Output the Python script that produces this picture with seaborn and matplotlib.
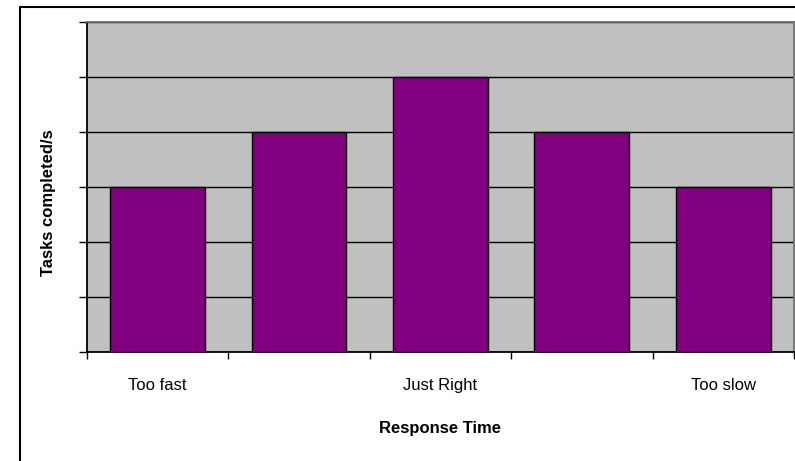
import matplotlib
matplotlib.use("Agg")
import matplotlib.pyplot as plt
from matplotlib.lines import Line2D
import seaborn as sns
import pandas as pd

# Data
categories = ["Too fast", "Bit fast", "Just Right", "Bit slow", "Too slow"]
tasks_per_s = [3, 4, 5, 4, 3]
tick_labels = ["Too fast", "", "Just Right", "", "Too slow"]
y_ticks = [0, 1, 2, 3, 4, 5, 6]

sns.set_theme(style="white")
plt.rcParams["font.family"] = ["Liberation Sans Narrow", "Liberation Sans", "DejaVu Sans"]
plt.rcParams["text.color"] = "black"
plt.rcParams["xtick.color"] = "black"
plt.rcParams["ytick.color"] = "black"
plt.rcParams["axes.labelcolor"] = "black"

df = pd.DataFrame({"category": categories, "value": tasks_per_s})

fig = plt.figure(figsize=(7.95, 4.61), dpi=100)
ax = fig.add_axes([86.7 / 795, 1 - 352 / 461, (794 - 86.7) / 795, (352 - 22) / 461])
ax.set_facecolor("#C0C0C0")

sns.barplot(data=df, x="category", y="value", order=categories, color="#800080",
            saturation=1, width=0.67, edgecolor="black", linewidth=1.0, ax=ax, zorder=3)

ax.set_xlim(-0.5, len(categories) - 0.5)
ax.set_ylim(y_ticks[0], y_ticks[-1])

# horizontal gridlines
ax.set_yticks(y_ticks)
ax.set_yticklabels([])
ax.yaxis.grid(True, color="black", linewidth=1.0, zorder=1)
ax.set_axisbelow(True)
ax.tick_params(axis="y", direction="out", length=6, width=1, color="black", left=True)

# category boundaries carry the tick marks; labels sit at the centres
ax.set_xticks([i - 0.5 for i in range(len(categories) + 1)])
ax.set_xticklabels([])
ax.tick_params(axis="x", which="major", direction="out", length=5, width=1, color="black", bottom=True)
ax.set_xticks(range(len(categories)), minor=True)
ax.set_xticklabels(tick_labels, minor=True, fontsize=12, color="black")
ax.tick_params(axis="x", which="minor", length=0, pad=19)

for side in ["left", "bottom"]:
    ax.spines[side].set_color("black")
    ax.spines[side].set_linewidth(1.3)
for side in ["top", "right"]:
    ax.spines[side].set_color("#707070")
    ax.spines[side].set_linewidth(1.3)

ax.set_xlabel("")
ax.set_ylabel("")

fig.text(440 / 795, 1 - 428 / 461, "Response Time", ha="center", va="center",
         fontsize=12, fontweight="bold", color="black",
         family=["Liberation Sans", "DejaVu Sans"])
fig.text(49 / 795, 1 - 203 / 461, "Tasks completed/s", ha="center", va="center",
         rotation=90, fontsize=12, fontweight="bold", color="black",
         family=["Liberation Sans", "DejaVu Sans"])

# chart frame
fig.add_artist(Line2D([20 / 795, 1.0], [1 - 7.5 / 461] * 2, color="black", lw=1.5,
                      transform=fig.transFigure))
fig.add_artist(Line2D([20 / 795] * 2, [0.0, 1 - 7.5 / 461], color="black", lw=1.5,
                      transform=fig.transFigure))

fig.savefig("out.png", dpi=100)
